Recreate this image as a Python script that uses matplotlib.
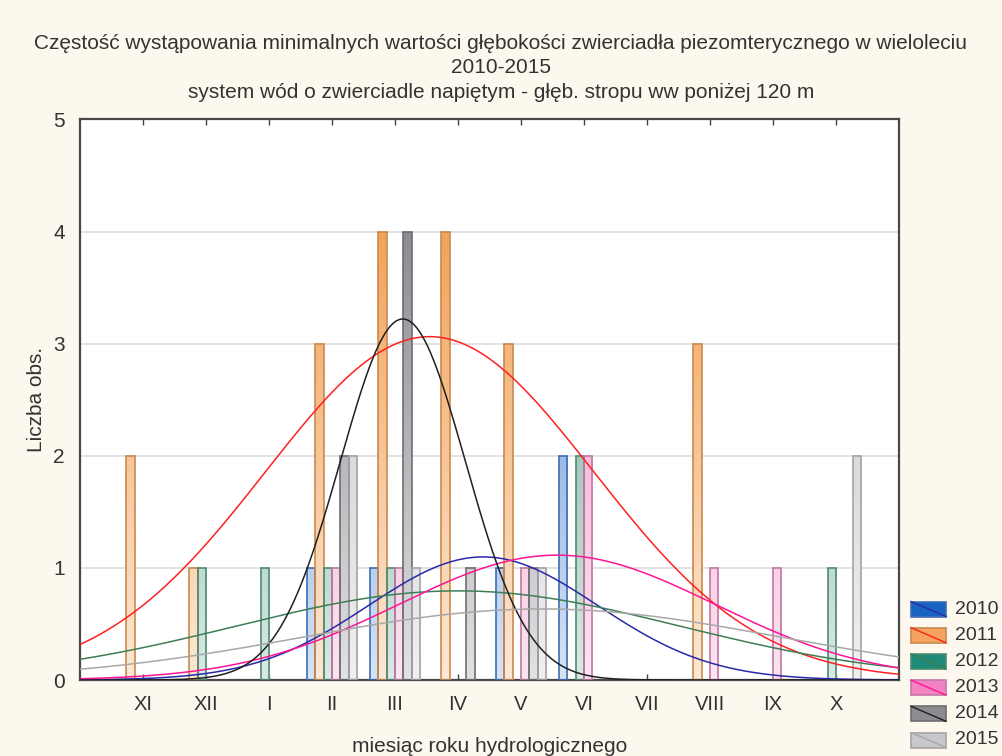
import numpy as np
import matplotlib
matplotlib.use('Agg')
import matplotlib.pyplot as plt
from matplotlib.colors import LinearSegmentedColormap
from matplotlib.patches import Rectangle
from matplotlib.lines import Line2D

plt.rcParams['font.family'] = ['Liberation Sans', 'DejaVu Sans']

miesiace = ['XI', 'XII', 'I', 'II', 'III', 'IV', 'V', 'VI', 'VII', 'VIII', 'IX', 'X']
lata = ['2010', '2011', '2012', '2013', '2014', '2015']

# liczba obserwacji w kolejnych miesiącach (XI..X)
n2010 = [0, 0, 0, 1, 1, 0, 1, 2, 0, 0, 0, 0]
n2011 = [2, 1, 0, 3, 4, 4, 3, 0, 0, 3, 0, 0]
n2012 = [0, 1, 1, 1, 1, 0, 0, 2, 0, 0, 0, 1]
n2013 = [0, 0, 0, 1, 1, 0, 1, 2, 0, 1, 1, 0]
n2014 = [0, 0, 0, 2, 4, 1, 1, 0, 0, 0, 0, 0]
n2015 = [0, 0, 0, 2, 1, 0, 1, 0, 0, 0, 0, 2]
serie = [n2010, n2011, n2012, n2013, n2014, n2015]

kol_slupka = ['#5F92D6', '#F3A35A', '#6FA898', '#EE98C4', '#8C8C92', '#C4C4C8']
kol_krawedzi = ['#3D6DB5', '#C98A4E', '#4C8C72', '#C576A6', '#6E6E72', '#A4A4A8']
kol_legendy = ['#1763C0', '#F4A45E', '#1F8A78', '#F383C2', '#8C8C90', '#C8C8CC']
kol_krzywej = ['#2A2AA8', '#FF2020', '#3E7E56', '#FF1493', '#202020', '#A8A8A8']
tekst = '#333333'

tlo = '#FDF8EE'
fig = plt.figure(figsize=(10.02, 7.56), dpi=100, facecolor=tlo)
ax = fig.add_axes([0.0798, 0.1005, 0.8174, 0.7415])
ax.set_facecolor('white')

x = np.arange(1, 13)
szer = 0.132
xs = np.linspace(0, 13, 400)

for i, (rok, dane) in enumerate(zip(lata, serie)):
    cmap = LinearSegmentedColormap.from_list('g' + rok, ['white', kol_slupka[i]])
    grad = np.linspace(0.25, 1.0, 256).reshape(-1, 1)
    pos = x + (i - 2.5) * szer
    for xp, h in zip(pos, dane):
        if h == 0:
            continue
        r = Rectangle((xp - szer / 2, 0), szer, h, facecolor='none',
                      edgecolor=kol_krawedzi[i], linewidth=1.2, zorder=3)
        ax.add_patch(r)
        im = ax.imshow(grad, cmap=cmap, vmin=0, vmax=1, origin='lower',
                       extent=[xp - szer / 2, xp + szer / 2, 0, 4.0],
                       aspect='auto', zorder=2, interpolation='bilinear')
        im.set_clip_path(r)
    # dopasowany rozkład normalny
    wart = np.repeat(x, dane)
    m, s = wart.mean(), wart.std(ddof=1)
    y = len(wart) / (s * np.sqrt(2 * np.pi)) * np.exp(-0.5 * ((xs - m) / s) ** 2)
    ax.plot(xs, y, color=kol_krzywej[i], lw=1.1, zorder=4)

ax.set_xlim(0, 13)
ax.set_ylim(0, 5)
ax.set_xticks(x)
ax.set_xticklabels(miesiace)
ax.set_yticks(range(6))
ax.tick_params(axis='x', direction='in', length=4, top=True, width=1,
               labelsize=14.5, labelcolor=tekst, color='#444444', pad=11)
ax.tick_params(axis='y', length=0, labelsize=15, labelcolor=tekst, pad=11)
ax.grid(axis='y', color='#DDDDDD', lw=1.2, zorder=0)
for sp in ax.spines.values():
    sp.set_color('#484848')
    sp.set_linewidth(1.6)

ax.set_xlabel('miesiąc roku hydrologicznego', fontsize=15, color=tekst, labelpad=16)
ax.set_ylabel('Liczba obs.', fontsize=15, color=tekst, labelpad=5)

fig.text(0.5, 0.943, 'Częstość wystąpowania minimalnych wartości głębokości zwierciadła piezomterycznego w wieloleciu',
         ha='center', va='center', fontsize=15, color=tekst)
fig.text(0.5, 0.911, '2010-2015', ha='center', va='center', fontsize=15, color=tekst)
fig.text(0.5, 0.878, 'system wód o zwierciadle napiętym - głęb. stropu ww poniżej 120 m',
         ha='center', va='center', fontsize=15, color=tekst)

# legenda
for i, rok in enumerate(lata):
    yc = 1 - (609 + i * 26.2) / 756
    x0, x1 = 911 / 1002, 946 / 1002
    h = 15 / 756
    fig.patches.append(Rectangle((x0, yc - h / 2), x1 - x0, h, transform=fig.transFigure,
                                 facecolor=kol_legendy[i], edgecolor=kol_krawedzi[i], lw=1.2))
    fig.lines.append(Line2D([x0, x1], [yc + h / 2, yc - h / 2], transform=fig.transFigure,
                            color=kol_krzywej[i], lw=1))
    fig.text(955 / 1002, yc, rok, va='center', ha='left', fontsize=14, color=tekst)

fig.savefig('out.png', dpi=100, facecolor=tlo)
